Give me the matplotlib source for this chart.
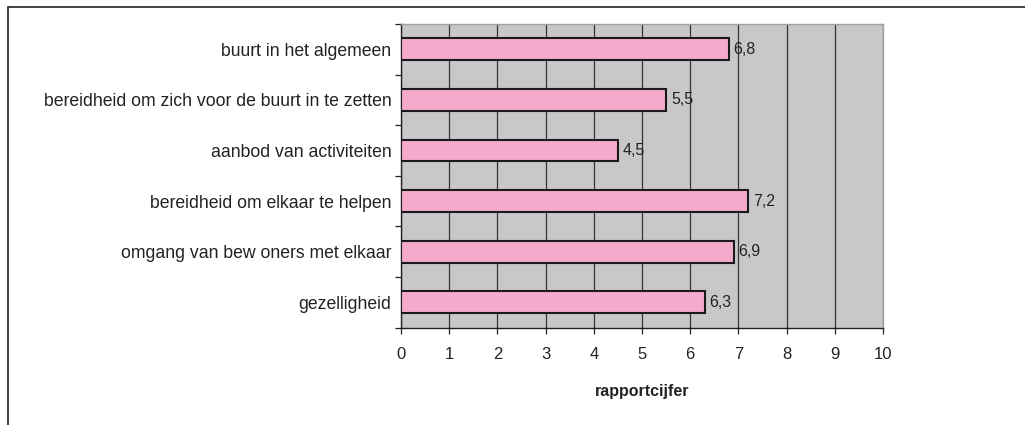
import matplotlib.pyplot as plt
from matplotlib.patches import Rectangle

plt.rcParams['font.family'] = ['Liberation Sans', 'DejaVu Sans']

# items from top to bottom
items = ['buurt in het algemeen',
         'bereidheid om zich voor de buurt in te zetten',
         'aanbod van activiteiten',
         'bereidheid om elkaar te helpen',
         'omgang van bew oners met elkaar',
         'gezelligheid']
scores = [6.8, 5.5, 4.5, 7.2, 6.9, 6.3]
xticks = list(range(0, 11))

fig = plt.figure(figsize=(10.25, 4.25), dpi=100)
W, H = 1025, 425
ax = fig.add_axes([401 / W, 1 - 327.5 / H, 482 / W, 303.5 / H])

# outer chart border (left and top visible)
fig.patches.append(Rectangle((8 / W, -0.1), 1.2, 1 - 7 / H + 0.1,
                             transform=fig.transFigure, fill=False,
                             edgecolor='#222222', lw=1.2))

ax.set_facecolor('#c8c8ca')
pos = [len(items) - 1 - i for i in range(len(items))]
ax.barh(pos, scores, height=0.43, color='#f5aacb', edgecolor='#1a1a1a',
        lw=1.5, zorder=3)
for p, s in zip(pos, scores):
    ax.text(s + 0.1, p, ('%.1f' % s).replace('.', ','), va='center',
            ha='left', fontsize=11.5, color='#222222', zorder=4)

ax.set_xlim(0, 10)
ax.set_ylim(-0.5, len(items) - 0.5)
ax.set_xticks(xticks)
ax.set_xticklabels([str(t) for t in xticks], fontsize=12, color='#222222')
ax.xaxis.grid(True, color='#333333', lw=0.9, zorder=1)
ax.set_axisbelow(True)

ax.set_yticks([p + 0.5 for p in range(-1, len(items))], minor=False)
ax.set_yticklabels([])
ax.set_yticks(pos, minor=True)
ax.set_yticklabels(items, minor=True, fontsize=12.7, color='#222222')
ax.tick_params(axis='y', which='minor', length=0, pad=7)
ax.tick_params(axis='y', which='major', length=4, width=0.9, color='#222222')
ax.tick_params(axis='x', length=4, width=0.9, color='#222222', pad=10)

ax.set_xlabel('rapportcijfer', fontsize=11.5, fontweight='bold',
              color='#222222', labelpad=16)

for side in ['left', 'bottom']:
    ax.spines[side].set_color('#222222')
    ax.spines[side].set_linewidth(1.0)
for side in ['top', 'right']:
    ax.spines[side].set_color('#a0a0a0')
    ax.spines[side].set_linewidth(1.0)

fig.savefig('out.png', dpi=100)
